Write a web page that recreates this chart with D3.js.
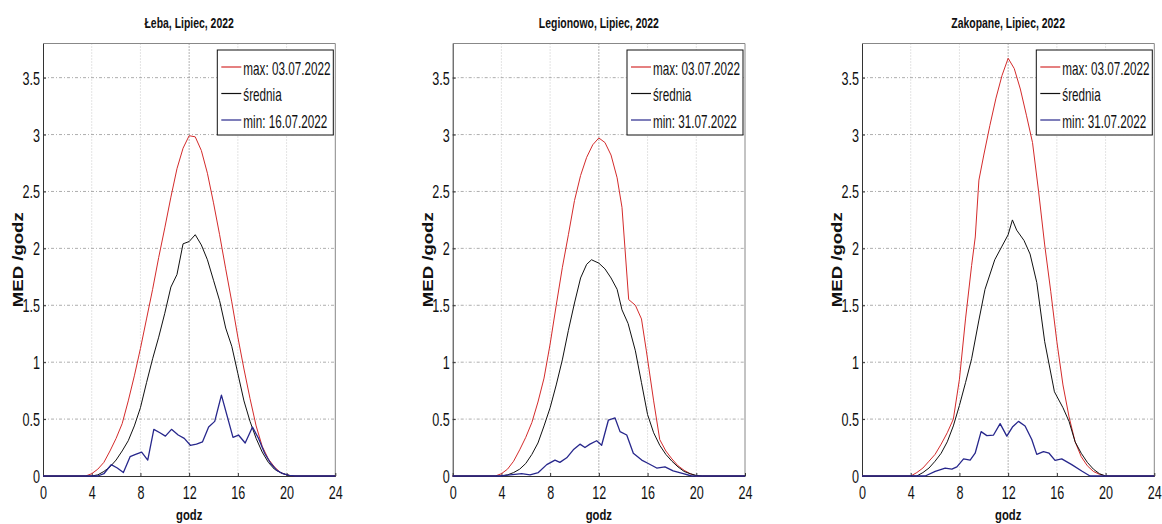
<!DOCTYPE html>
<html>
<head>
<meta charset="utf-8">
<script src="https://cdn.jsdelivr.net/npm/d3@7"></script>
<style>
  body { margin: 0; background: #fff; }
  text { font-family: "Liberation Sans", Arial, sans-serif; fill: #111; }
</style>
</head>
<body>
<svg id="chart" width="1162" height="524"></svg>
<script>
// ---- data ----
const titles = ["Łeba, Lipiec, 2022", "Legionowo, Lipiec, 2022", "Zakopane, Lipiec, 2022"];
const maxLabels = ["max: 03.07.2022", "max: 03.07.2022", "max: 03.07.2022"];
const meanLabel = "średnia";
const minLabels = ["min: 16.07.2022", "min: 31.07.2022", "min: 31.07.2022"];
const xTicks = [0, 4, 8, 12, 16, 20, 24];
const yTicks = [0, 0.5, 1, 1.5, 2, 2.5, 3, 3.5];

// Łeba
const lebaMaxHours = [0, 3.5, 4, 4.5, 5, 5.5, 6, 6.5, 7, 7.5, 8, 8.5, 9, 9.5, 10, 10.5, 11, 11.5, 12, 12.5, 13, 13.5, 14, 14.5, 15, 15.5, 16, 16.5, 17, 17.5, 18, 18.5, 19, 19.5, 20, 20.5, 24];
const lebaMaxValues = [0, 0, 0.02, 0.06, 0.12, 0.22, 0.33, 0.46, 0.66, 0.88, 1.12, 1.38, 1.64, 1.92, 2.18, 2.45, 2.70, 2.88, 2.99, 2.98, 2.86, 2.66, 2.40, 2.12, 1.82, 1.53, 1.22, 0.94, 0.68, 0.44, 0.26, 0.15, 0.08, 0.03, 0.01, 0, 0];
const lebaMeanHours = [0, 4, 4.5, 5, 5.5, 6, 6.5, 7, 7.5, 8, 8.5, 9, 9.5, 10, 10.5, 11, 11.5, 12, 12.5, 13, 13.5, 14, 14.5, 15, 15.5, 16, 16.5, 17, 17.5, 18, 18.5, 19, 19.5, 20, 20.5, 24];
const lebaMeanValues = [0, 0, 0.01, 0.04, 0.08, 0.14, 0.22, 0.31, 0.44, 0.60, 0.82, 1.03, 1.22, 1.43, 1.66, 1.77, 2.04, 2.06, 2.12, 2.03, 1.90, 1.72, 1.54, 1.30, 1.14, 0.90, 0.66, 0.48, 0.33, 0.21, 0.12, 0.06, 0.03, 0.01, 0, 0];
const lebaMinHours = [0, 4.5, 5.0, 5.6, 6.1, 6.6, 7.15, 7.6, 8.1, 8.6, 9.1, 9.6, 10.05, 10.55, 11.1, 11.6, 12.1, 12.6, 13.1, 13.6, 14.1, 14.65, 15.6, 16.05, 16.6, 17.2, 17.7, 18.2, 18.7, 19.2, 19.7, 20.2, 20.7, 24];
const lebaMinValues = [0, 0, 0.02, 0.10, 0.07, 0.03, 0.17, 0.19, 0.21, 0.14, 0.41, 0.38, 0.35, 0.41, 0.36, 0.33, 0.27, 0.28, 0.30, 0.43, 0.48, 0.71, 0.34, 0.36, 0.29, 0.43, 0.33, 0.20, 0.11, 0.05, 0.02, 0.005, 0, 0];

// Legionowo
const legMaxHours = [0, 3.5, 4, 4.5, 5, 5.5, 6, 6.5, 7, 7.5, 8, 8.5, 9, 9.5, 10, 10.5, 11, 11.5, 12, 12.5, 13, 13.5, 13.9, 14.45, 15, 15.5, 15.9, 16.5, 17, 17.5, 18, 18.5, 19, 19.5, 20, 24];
const legMaxValues = [0, 0, 0.02, 0.06, 0.13, 0.23, 0.34, 0.47, 0.65, 0.86, 1.16, 1.50, 1.83, 2.12, 2.42, 2.64, 2.80, 2.91, 2.97, 2.93, 2.82, 2.62, 2.36, 1.55, 1.50, 1.38, 1.10, 0.66, 0.32, 0.22, 0.15, 0.09, 0.05, 0.02, 0, 0];
const legMeanHours = [0, 4, 4.5, 5, 5.5, 6, 6.5, 7, 7.5, 8, 8.5, 9, 9.5, 10, 10.5, 11, 11.4, 12, 12.5, 13, 13.5, 13.9, 14.4, 15, 15.5, 16, 16.5, 17, 17.5, 18, 18.5, 19, 19.5, 20, 20.5, 24];
const legMeanValues = [0, 0, 0.01, 0.03, 0.06, 0.11, 0.19, 0.29, 0.44, 0.60, 0.80, 1.02, 1.28, 1.52, 1.74, 1.86, 1.90, 1.87, 1.82, 1.74, 1.64, 1.46, 1.34, 1.10, 0.82, 0.54, 0.38, 0.27, 0.19, 0.13, 0.08, 0.04, 0.02, 0.005, 0, 0];
const legMinHours = [0, 3.9, 5.66, 6.35, 7.03, 7.72, 8.4, 8.8, 9.36, 9.9, 10.45, 10.86, 11.27, 11.82, 12.23, 12.78, 13.33, 13.74, 14.29, 14.83, 15.52, 16.06, 16.75, 17.43, 18.1, 18.93, 19.62, 24];
const legMinValues = [0, 0, 0.02, 0.01, 0.03, 0.10, 0.14, 0.12, 0.16, 0.23, 0.28, 0.25, 0.28, 0.31, 0.27, 0.49, 0.51, 0.39, 0.36, 0.20, 0.14, 0.11, 0.07, 0.08, 0.045, 0.02, 0, 0];

// Zakopane
const zakMaxHours = [0, 4, 4.5, 5, 5.5, 6, 6.5, 7, 7.5, 8, 8.5, 9, 9.3, 9.6, 10, 10.5, 11, 11.5, 12, 12.5, 13, 13.5, 14, 14.5, 15, 15.5, 16, 16.5, 17, 17.5, 18, 18.5, 19, 19.5, 20, 24];
const zakMaxValues = [0, 0, 0.03, 0.07, 0.13, 0.19, 0.28, 0.38, 0.50, 0.85, 1.38, 1.85, 2.10, 2.60, 2.82, 3.08, 3.32, 3.52, 3.67, 3.58, 3.40, 3.17, 2.93, 2.50, 2.03, 1.62, 1.18, 0.80, 0.52, 0.30, 0.17, 0.09, 0.04, 0.015, 0, 0];
const zakMeanHours = [0, 4.5, 5, 5.5, 6, 6.5, 7, 7.5, 8, 8.5, 9, 9.6, 10.1, 10.9, 11.5, 12, 12.35, 12.7, 13.3, 13.8, 14.35, 15, 15.8, 16.5, 17, 17.5, 18, 18.5, 19, 19.5, 20, 24];
const zakMeanValues = [0, 0, 0.03, 0.07, 0.13, 0.20, 0.30, 0.44, 0.62, 0.82, 1.03, 1.37, 1.64, 1.90, 2.02, 2.12, 2.25, 2.16, 2.07, 1.95, 1.70, 1.18, 0.74, 0.60, 0.48, 0.30, 0.20, 0.12, 0.06, 0.02, 0, 0];
const zakMinHours = [0, 5.19, 6.01, 6.83, 7.38, 7.79, 8.34, 8.88, 9.29, 9.78, 10.25, 10.8, 11.34, 11.89, 12.35, 12.85, 13.39, 13.94, 14.35, 14.9, 15.36, 15.85, 16.4, 17.22, 18.04, 18.72, 24];
const zakMinValues = [0, 0, 0.04, 0.07, 0.06, 0.08, 0.15, 0.14, 0.20, 0.39, 0.355, 0.36, 0.46, 0.35, 0.43, 0.48, 0.44, 0.32, 0.19, 0.215, 0.20, 0.137, 0.15, 0.10, 0.044, 0, 0];

// ---- layout ----
const RED = "#d42b2b", BLACK = "#111", BLUE = "#27278c";
const panelLeft = [43, 452.7, 862];
const plotW = 292.3, plotTop = 43.5, plotBottom = 476;
const tickSqueeze = 0.7, legendSqueeze = 0.65;

const panels = [
  { title: titles[0], legend: [maxLabels[0], meanLabel, minLabels[0]],
    series: [[lebaMaxHours, lebaMaxValues, RED], [lebaMeanHours, lebaMeanValues, BLACK], [lebaMinHours, lebaMinValues, BLUE]] },
  { title: titles[1], legend: [maxLabels[1], meanLabel, minLabels[1]],
    series: [[legMaxHours, legMaxValues, RED], [legMeanHours, legMeanValues, BLACK], [legMinHours, legMinValues, BLUE]] },
  { title: titles[2], legend: [maxLabels[2], meanLabel, minLabels[2]],
    series: [[zakMaxHours, zakMaxValues, RED], [zakMeanHours, zakMeanValues, BLACK], [zakMinHours, zakMinValues, BLUE]] }
];

const svg = d3.select("#chart");

panels.forEach(function (p, i) {
  const left = panelLeft[i];
  const x = d3.scaleLinear().domain([0, 24]).range([left, left + plotW]);
  const y = d3.scaleLinear().domain([0, 3.8]).range([plotBottom, plotTop]);
  const g = svg.append("g");

  // grid
  g.selectAll(".vgrid").data(xTicks.slice(1, -1)).enter().append("line")
    .attr("x1", d => x(d)).attr("x2", d => x(d))
    .attr("y1", plotTop).attr("y2", plotBottom)
    .attr("stroke", d => d === 12 ? "#444" : "#bbb")
    .attr("stroke-width", 0.8)
    .attr("stroke-dasharray", "1,2");
  g.selectAll(".hgrid").data(yTicks.slice(1)).enter().append("line")
    .attr("x1", left).attr("x2", left + plotW)
    .attr("y1", d => y(d)).attr("y2", d => y(d))
    .attr("stroke", "#999")
    .attr("stroke-width", 0.8)
    .attr("stroke-dasharray", "3,2,1,2");

  // frame (top/right lighter, like the original)
  g.append("line").attr("x1", left).attr("x2", left + plotW).attr("y1", plotTop).attr("y2", plotTop)
    .attr("stroke", "#888");
  g.append("line").attr("x1", left + plotW).attr("x2", left + plotW).attr("y1", plotTop).attr("y2", plotBottom)
    .attr("stroke", "#888");

  // axes with inward ticks
  const xAxis = g.append("g").attr("transform", "translate(0," + plotBottom + ")")
    .call(d3.axisBottom(x).tickValues(xTicks).tickSizeInner(-3).tickSizeOuter(0).tickPadding(0));
  const yAxis = g.append("g").attr("transform", "translate(" + left + ",0)")
    .call(d3.axisLeft(y).tickValues(yTicks).tickFormat(d3.format("")).tickSizeInner(-3).tickSizeOuter(0).tickPadding(0));
  [xAxis, yAxis].forEach(a => {
    a.select(".domain").attr("stroke", "#333");
    a.selectAll(".tick line").attr("stroke", "#333");
    a.selectAll("text").attr("font-family", null).attr("font-size", 18).attr("fill", "#111")
      .attr("transform", "scale(" + tickSqueeze + ",1)");
  });
  xAxis.selectAll("text").attr("y", 23).attr("dy", null);
  yAxis.selectAll("text").attr("x", -3 / tickSqueeze).attr("dy", "0.36em");

  // lines
  const line = d3.line().x(d => x(d[0])).y(d => y(d[1]));
  p.series.forEach(function (s) {
    const pts = s[0].map((h, k) => [h, s[1][k]]);
    g.append("path").datum(pts)
      .attr("d", line)
      .attr("fill", "none")
      .attr("stroke", s[2])
      .attr("stroke-width", s[2] === BLUE ? 1.3 : 1)
      .attr("stroke-linejoin", "round");
  });

  // title
  g.append("text")
    .attr("transform", "translate(" + x(12) + ",28) scale(0.72,1)")
    .attr("text-anchor", "middle")
    .attr("font-size", 14.5).attr("font-weight", "bold")
    .text(p.title);

  // x label
  g.append("text")
    .attr("transform", "translate(" + x(12) + ",520) scale(0.75,1)")
    .attr("text-anchor", "middle")
    .attr("font-size", 15).attr("font-weight", "bold")
    .text("godz");

  // y label
  g.append("text")
    .attr("transform", "translate(" + (left - 20) + "," + ((plotTop + plotBottom) / 2) + ") rotate(-90)")
    .attr("text-anchor", "middle")
    .attr("font-size", 15).attr("font-weight", "bold")
    .attr("textLength", 95).attr("lengthAdjust", "spacingAndGlyphs")
    .text("MED /godz");

  // legend
  const lw = 116, lh = 85;
  const lg = g.append("g").attr("transform", "translate(" + (left + plotW - 2 - lw) + ",50)");
  lg.append("rect").attr("width", lw).attr("height", lh)
    .attr("fill", "#fff").attr("stroke", "#111").attr("stroke-width", 1);
  const colors = [RED, BLACK, BLUE];
  p.legend.forEach(function (lbl, k) {
    const cy = 17 + k * 26.5;
    lg.append("line").attr("x1", 4).attr("x2", 24).attr("y1", cy).attr("y2", cy)
      .attr("stroke", colors[k]).attr("stroke-width", 1.2);
    lg.append("text")
      .attr("transform", "translate(26," + (cy + 7.5) + ") scale(" + legendSqueeze + ",1)")
      .attr("font-size", 18)
      .text(lbl);
  });
});
</script>
</body>
</html>
